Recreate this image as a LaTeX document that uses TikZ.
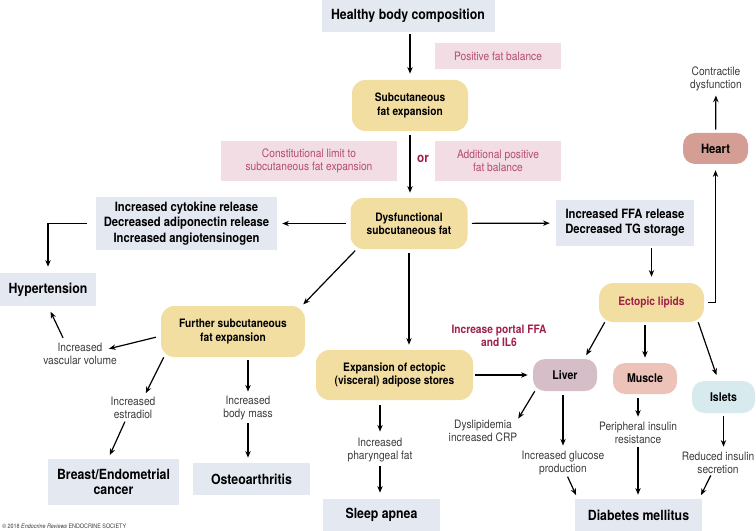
\documentclass[tikz,border=0pt]{standalone}
\usepackage{fontspec}
\setmainfont{TeX Gyre Heros}[FakeStretch=0.88]
\usepackage{tikz}
\usetikzlibrary{arrows.meta}
\definecolor{boxblue}{RGB}{228,233,241}
\definecolor{fatyellow}{RGB}{243,222,162}
\definecolor{balpink}{RGB}{241,221,227}
\definecolor{balred}{RGB}{184,74,114}
\definecolor{deepred}{RGB}{160,32,74}
\definecolor{heartred}{RGB}{213,158,148}
\definecolor{livermauve}{RGB}{214,190,200}
\definecolor{musclepink}{RGB}{236,194,185}
\definecolor{isletblue}{RGB}{215,235,238}
\definecolor{labelgrey}{RGB}{60,60,60}

\begin{document}
\begin{tikzpicture}[x=0.75pt, y=-0.75pt]
        \useasboundingbox (0, 0) rectangle (756, 531);
        \tikzset{bigbox/.style={fill=boxblue, inner sep=0pt, align=center, font=\fontsize{10.5}{11.5}\selectfont\bfseries}}
        \tikzset{midbox/.style={fill=boxblue, inner sep=0pt, align=center, font=\fontsize{9.6}{11.5}\selectfont\bfseries}}
        \tikzset{fatbox/.style={fill=fatyellow, rounded corners=10pt, inner sep=0pt, align=center, font=\fontsize{8.7}{10}\selectfont\bfseries}}
        \tikzset{organ/.style={rounded corners=9pt, inner sep=0pt, align=center, font=\fontsize{9}{10}\selectfont\bfseries}}
        \tikzset{balbox/.style={fill=balpink, text=balred, inner sep=0pt, align=center, font=\fontsize{8.7}{10}\selectfont}}
        \tikzset{effect/.style={text=labelgrey, inner sep=0pt, align=center, font=\fontsize{8.7}{10}\selectfont}}
        \node [bigbox, minimum width=129.75pt, minimum height=24pt] (healthy) at (408, 16) {Healthy body composition};
        \node [balbox, minimum width=94.5pt, minimum height=19.5pt] (posbal) at (498, 56) {Positive fat balance};
        \node [fatbox, minimum width=87pt, minimum height=38.25pt] (subcut) at (410, 105.5) {Subcutaneous\\fat expansion};
        \node [balbox, minimum width=132pt, minimum height=30pt] (constit) at (309, 161) {Constitutional limit to\\subcutaneous fat expansion};
        \node [text=deepred, inner sep=0pt, font=\fontsize{10}{11}\selectfont\bfseries] (or) at (423, 159) {or};
        \node [balbox, minimum width=94.5pt, minimum height=30pt] (addpos) at (498, 161) {Additional positive\\fat balance};
        \node [fatbox, minimum width=87.75pt, minimum height=38.25pt] (dysf) at (409, 223.5) {Dysfunctional\\subcutaneous fat};
        \node [midbox, minimum width=135.75pt, minimum height=39.75pt] (cytok) at (186.5, 223.5) {Increased cytokine release\\Decreased adiponectin release\\Increased angiotensinogen};
        \node [midbox, minimum width=103.5pt, minimum height=34.5pt] (ffa) at (625, 223) {Increased FFA release\\Decreased TG storage};
        \node [bigbox, minimum width=72pt, minimum height=24.75pt] (hyper) at (48, 289.5) {Hypertension};
        \node [fatbox, minimum width=108pt, minimum height=38.25pt] (further) at (233, 331.5) {Further subcutaneous\\fat expansion};
        \node [fatbox, minimum width=117.75pt, minimum height=37.5pt] (expan) at (394.5, 375) {Expansion of ectopic\\(visceral) adipose stores};
        \node [fatbox, text=deepred, rounded corners=11pt, minimum width=78.75pt, minimum height=29.25pt] (ectlip) at (651.5, 302.5) {Ectopic lipids};
        \node [organ, fill=heartred, font=\fontsize{9.6}{10}\selectfont\bfseries, minimum width=48.75pt, minimum height=23.25pt] (heart) at (715.5, 148.5) {Heart};
        \node [effect] (contr) at (716, 79) {Contractile\\dysfunction};
        \node [text=deepred, inner sep=0pt, align=center, font=\fontsize{8.7}{10}\selectfont\bfseries] (portal) at (499, 336) {Increase portal FFA\\and IL6};
        \node [organ, fill=livermauve, minimum width=48pt, minimum height=24pt] (liver) at (565, 375) {Liver};
        \node [organ, fill=musclepink, minimum width=48pt, minimum height=23.25pt] (muscle) at (645, 378.5) {Muscle};
        \node [organ, fill=isletblue, minimum width=47.25pt, minimum height=24pt] (islets) at (723.5, 397) {Islets};
        \node [effect] (dyslip) at (483, 431) {Dyslipidemia\\increased CRP};
        \node [effect] (glucose) at (563, 463) {Increased glucose\\production};
        \node [effect] (periph) at (638, 433) {Peripheral insulin\\resistance};
        \node [effect] (reduced) at (718, 463) {Reduced insulin\\secretion};
        \node [bigbox, minimum width=95.25pt, minimum height=24pt] (diabetes) at (638.5, 515) {Diabetes mellitus};
        \node [effect] (pharyn) at (380, 450) {Increased\\pharyngeal fat};
        \node [bigbox, minimum width=87.75pt, minimum height=24pt] (sleep) at (381.5, 515) {Sleep apnea};
        \node [effect] (vascular) at (80, 354) {Increased\\vascular volume};
        \node [effect] (estradiol) at (133, 408) {Increased\\estradiol};
        \node [effect] (bodymass) at (248, 408) {Increased\\body mass};
        \node [bigbox, minimum width=98.25pt, minimum height=34.5pt] (breast) at (113.5, 482) {Breast/Endometrial\\cancer};
        \node [bigbox, minimum width=87.75pt, minimum height=24pt] (osteo) at (251.5, 479) {Osteoarthritis};
        \node [anchor=west, inner sep=0pt, text=labelgrey, font=\fontsize{4.6}{5}\selectfont] (copy) at (2, 526) {© 2018 \textit{Endocrine Reviews} ENDOCRINE SOCIETY};
        \tikzset{arrows={-Stealth[length=5pt, width=4pt]}}
        \draw [line width=0.9pt, shorten <=1.5pt, shorten >=4.5pt] (healthy.south -| subcut) -- (subcut);
        \draw [line width=0.9pt, shorten <=3pt, shorten >=3.75pt] (subcut.south) -- (subcut.south |- dysf.north);
        \draw [line width=0.9pt, shorten <=3pt, shorten >=3.75pt] (dysf) -- (cytok);
        \draw [line width=0.9pt, shorten <=3pt, shorten >=4.5pt] (dysf) -- (ffa);
        \draw [line width=0.9pt, shorten >=4.5pt] ([xshift=-6.75pt]cytok.west) -| (hyper);
        \draw [line width=0.9pt, shorten <=1.5pt, shorten >=4.5pt] (ffa.south -| ectlip) -- (ectlip);
        \draw [line width=0.9pt, shorten <=3pt, shorten >=4.5pt] (ectlip.east) -| (heart);
        \draw [line width=0.9pt, shorten <=2.25pt, shorten >=3pt] (heart) -- (contr);
        \draw [line width=0.9pt] ([xshift=3.75pt, yshift=-1pt]dysf.south west) -- ([xshift=-1.5pt, yshift=1pt]further.north east);
        \draw [line width=0.9pt, shorten <=3pt, shorten >=3.75pt] (dysf.south) -- (dysf.south |- expan.north);
        \draw [line width=0.9pt, shorten <=1.5pt, shorten >=3.75pt] (expan) -- (liver);
        \draw [line width=0.9pt, shorten >=3pt] ([xshift=4.5pt]ectlip.south west) -- ([xshift=-9.75pt]liver.north east);
        \draw [line width=0.9pt, shorten <=2.25pt, shorten >=3.75pt] (ectlip.south -| muscle) -- (muscle);
        \draw [line width=0.9pt, shorten >=4.5pt] ([xshift=-4.5pt]ectlip.south east) -- ([xshift=20pt]islets.north west);
        \draw [line width=0.9pt, shorten >=1pt] ([xshift=1.5pt]liver.south west) -- (dyslip.north east);
        \draw [line width=0.9pt, shorten <=3pt, shorten >=3.75pt] (liver.south -| glucose) -- (glucose);
        \draw [line width=0.9pt, shorten <=1pt, shorten >=3pt] ([xshift=3pt]glucose.south) -- ([xshift=2.25pt]diabetes.north west);
        \draw [line width=0.9pt, shorten <=3pt, shorten >=3.75pt] (muscle.south -| periph) -- (periph);
        \draw [line width=0.9pt, shorten <=2.25pt, shorten >=3pt] (periph) -- (periph |- diabetes.north);
        \draw [line width=0.9pt, shorten <=2.25pt, shorten >=3.75pt] (islets.south) -- (islets.south |- reduced.north);
        \draw [line width=0.9pt, shorten <=1pt, shorten >=3pt] ([xshift=-5pt]reduced.south) -- ([xshift=-2.25pt]diabetes.north east);
        \draw [line width=0.9pt, shorten <=3.75pt, shorten >=4.5pt] (expan.south -| pharyn) -- (pharyn);
        \draw [line width=0.9pt, shorten <=3pt, shorten >=4.5pt] (pharyn) -- (pharyn |- sleep.north);
        \draw [line width=0.9pt, shorten <=3.75pt] ([yshift=-3.4pt]further.west) -- ([xshift=-6pt, yshift=-4.5pt]vascular.north east);
        \draw [line width=0.9pt, shorten >=4.5pt] ([xshift=-12.75pt, yshift=3.75pt]vascular.north) -- (hyper.south);
        \draw [line width=0.9pt, shorten >=3pt] ([xshift=2.25pt]further.south west) -- ([xshift=8.25pt]estradiol.north);
        \draw [line width=0.9pt, shorten <=2pt, shorten >=3pt] ([xshift=-5.25pt]estradiol.south) -- ([xshift=-4pt]breast.north);
        \draw [line width=0.9pt, shorten <=2.25pt, shorten >=3pt] (further.south -| bodymass) -- (bodymass);
        \draw [line width=0.9pt, shorten <=2.25pt, shorten >=3.75pt] (bodymass) -- (bodymass |- osteo.north);
    \end{tikzpicture}
\end{document}
